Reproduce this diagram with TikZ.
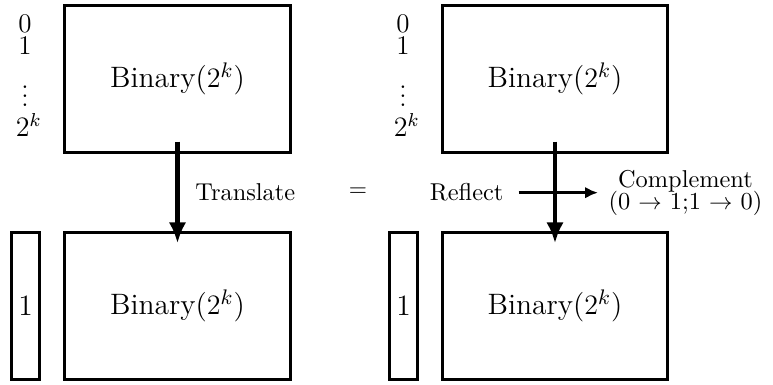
\documentclass[tikz,border=0pt]{standalone}
\usepackage{amsmath,amssymb}
\usepackage{tikz}
\usetikzlibrary{positioning,arrows.meta}

\begin{document}
\begin{tikzpicture}[every node/.style={font=\fontsize{10.4}{12.5}\selectfont},
    blk/.style={draw, line width=1.4pt, inner sep=0pt,
                minimum width=3.38cm, minimum height=2.2cm,
                font=\fontsize{12.6}{15}\selectfont},
    bit/.style={draw, line width=1.4pt, inner sep=0pt,
                minimum width=0.41cm, minimum height=2.2cm,
                font=\fontsize{12.6}{15}\selectfont},
    idx/.style={anchor=base, inner sep=0pt, font=\fontsize{11.5}{14}\selectfont},
    ar/.style={-{Latex[length=9pt,width=7.5pt]}, line width=2pt},
    arh/.style={-{Latex[length=5.5pt,width=5pt]}, line width=1.1pt}]
  \useasboundingbox (0,0) rectangle (11.595,-5.775);
  % left half: translate
  \node[blk] (tb1) at (2.6625,-1.185) {Binary($2^k$)};
  \node[blk] (tb2) at (2.6625,-4.59) {Binary($2^k$)};
  \node[bit] (tbit) at (0.3825,-4.59) {1};
  \node[idx] (ti0) at (0.375,-0.495) {0};
  \node[idx] (ti1) at (0.375,-0.825) {1};
  \node[idx] (tid) at (0.375,-1.605) {$\vdots$};
  \node[idx] (tik) at (0.43,-2.055) {$2^k$};
  \draw[ar] ([yshift=0.185cm]tb1.south) -- ([yshift=-0.185cm]tb2.north);
  \node[anchor=base] (trans) at (3.68,-3.015) {Translate};
  \node (eq) at (5.37,-2.89) {$=$};
  % right half: reflect + complement
  \node[blk] (rb1) at (8.325,-1.185) {Binary($2^k$)};
  \node[blk] (rb2) at (8.325,-4.59) {Binary($2^k$)};
  \node[bit] (rbit) at (6.0525,-4.59) {1};
  \node[idx] (ri0) at (6.045,-0.495) {0};
  \node[idx] (ri1) at (6.045,-0.825) {1};
  \node[idx] (rid) at (6.045,-1.605) {$\vdots$};
  \node[idx] (rik) at (6.10,-2.055) {$2^k$};
  \node[anchor=base] (refl) at (7.0,-3.015) {Reflect};
  \node[right=1.33cm of refl, align=center] (comp)
    {Complement\\[-3pt](0 $\rightarrow$ 1;1 $\rightarrow$ 0)};
  \draw[arh, shorten <=3pt, shorten >=1pt] (refl) -- (comp);
  \draw[ar] ([yshift=0.185cm]rb1.south) -- ([yshift=-0.185cm]rb2.north);
\end{tikzpicture}
\end{document}
